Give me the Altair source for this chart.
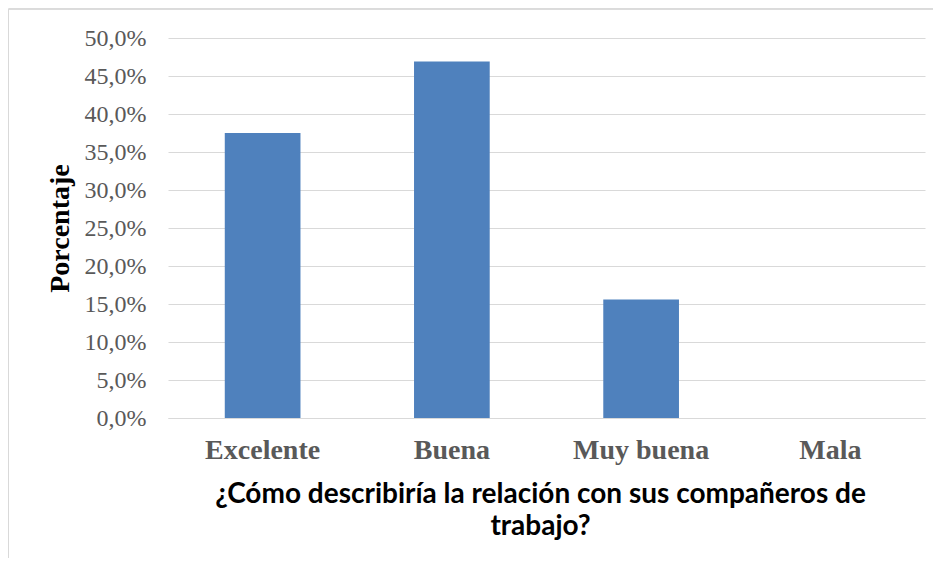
import altair as alt
import pandas as pd

categories = ["Excelente", "Buena", "Muy buena", "Mala"]
values = [37.5, 46.9, 15.6, 0.0]
y_ticks = [0, 5, 10, 15, 20, 25, 30, 35, 40, 45, 50]

df = pd.DataFrame({"cat": categories, "val": values})

W, H = 757, 380
PL, PT, PR, PB = 160, 30, 8, 140

bars = alt.Chart(df).mark_bar(color="#4f81bd").encode(
    x=alt.X(
        "cat:N",
        sort=categories,
        scale=alt.Scale(paddingInner=0.6, paddingOuter=0.3),
        axis=alt.Axis(
            title=["¿Cómo describiría la relación con sus compañeros de", "trabajo?"],
            titleFont="Lato",
            titleFontSize=28,
            titleFontWeight="bold",
            titleColor="#000000",
            titleX=372,
            titleY=84,
            titleAlign="center",
            titleBaseline="alphabetic",
            titleLineHeight=32,
            labelFont="Liberation Serif",
            labelFontSize=28,
            labelFontWeight="bold",
            labelColor="#595959",
            labelAngle=0,
            labelPadding=18,
            ticks=False,
            domainColor="#d9d9d9",
            domainWidth=1,
        ),
    ),
    y=alt.Y(
        "val:Q",
        scale=alt.Scale(domain=[0, 50], nice=False),
        axis=alt.Axis(
            values=y_ticks,
            labelExpr="replace(format(datum.value, '.1f'), '.', ',') + '%'",
            title="Porcentaje",
            titleFont="Liberation Serif",
            titleFontSize=28,
            titleFontWeight="bold",
            titleColor="#000000",
            titleAngle=-90,
            titleX=-108,
            titleY=H / 2,
            titleAlign="center",
            titleBaseline="middle",
            labelFont="Liberation Serif",
            labelFontSize=24,
            labelColor="#595959",
            labelPadding=22,
            ticks=False,
            domain=False,
            grid=True,
            gridColor="#d9d9d9",
            gridWidth=1,
        ),
    ),
)

border_left = alt.Chart(df).mark_rule(color="#d9d9d9", strokeWidth=1).encode(
    x=alt.value(-PL + 0.5), y=alt.value(-PT + 1), y2=alt.value(H + PB)
)
border_top = alt.Chart(df).mark_rule(color="#d9d9d9", strokeWidth=1).encode(
    y=alt.value(-PT + 1), x=alt.value(-PL + 0.5), x2=alt.value(W + PR)
)

chart = alt.layer(border_left, border_top, bars).properties(
    width=W,
    height=H,
    autosize=alt.AutoSizeParams(type="none"),
    padding={"left": PL, "top": PT, "right": PR, "bottom": PB},
    background="#ffffff",
).configure_view(stroke=None)

chart.save("out.html", embed_options={"renderer": "svg", "actions": False})
